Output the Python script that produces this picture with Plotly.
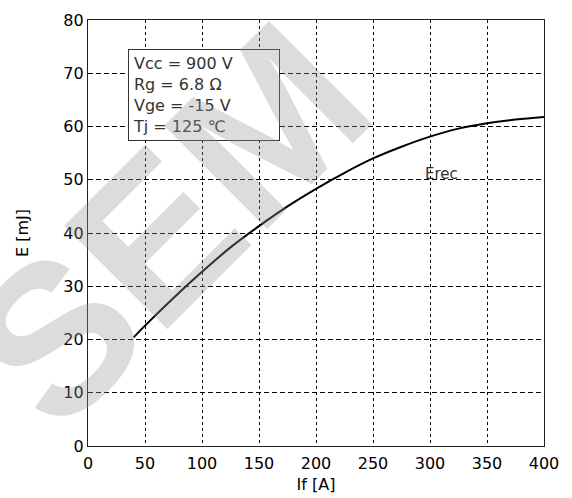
import plotly.graph_objects as go

# Reverse-recovery energy vs forward current
if_a = [40, 50, 75, 100, 125, 150, 175, 200, 225, 250, 275, 300, 325, 350, 375, 400]
erec_mj = [20.4, 22.6, 27.8, 32.7, 37.3, 41.3, 45.0, 48.3, 51.3, 54.0, 56.2, 58.1, 59.6, 60.6, 61.3, 61.8]

x_ticks = [0, 50, 100, 150, 200, 250, 300, 350, 400]
y_ticks = [0, 10, 20, 30, 40, 50, 60, 70, 80]

conditions = ["Vcc = 900 V", "Rg = 6.8 Ω", "Vge = -15 V", "Tj = 125 ℃"]

FONT = "DejaVu Sans, Arial, sans-serif"

fig = go.Figure()
fig.add_trace(go.Scatter(
    x=if_a, y=erec_mj, mode="lines",
    line=dict(color="black", width=2, shape="spline"),
    showlegend=False, hoverinfo="skip",
))

axis_common = dict(
    showline=True, linecolor="#222", linewidth=1.2, mirror=True,
    showgrid=True, gridcolor="black", gridwidth=1, automargin=False,
    zeroline=False, ticks="", tickfont=dict(family=FONT, size=16, color="black"),
)

fig.update_xaxes(
    range=[0, 400], tickvals=x_ticks, griddash="3px,3px", ticklabelstandoff=3,
    title=dict(text="If [A]", font=dict(family=FONT, size=16, color="black"), standoff=6),
    **axis_common,
)
fig.update_yaxes(
    range=[0, 80], tickvals=y_ticks, griddash="5px,3px",
    title=dict(text="E [mJ]", font=dict(family=FONT, size=16, color="black"), standoff=30),
    **axis_common,
)

# operating conditions box
fig.add_annotation(
    xref="paper", yref="paper", x=0.087, y=0.933, xanchor="left", yanchor="top",
    text="<br>".join(conditions), showarrow=False, align="left",
    width=142, height=82,
    font=dict(family=FONT, size=16, color="#333"),
    bgcolor="white", bordercolor="#333", borderwidth=1, borderpad=4,
)

fig.add_annotation(
    x=310, y=51, text="Erec", showarrow=False,
    font=dict(family=FONT, size=15, color="#333"),
)

# light watermark across the plot
fig.add_annotation(
    xref="paper", yref="paper", x=0.175, y=0.52, xanchor="center", yanchor="middle",
    text="<b>SEM</b>", showarrow=False, textangle=-45,
    font=dict(family="Liberation Sans, Arial, sans-serif", size=212, color="rgba(150,150,150,0.33)"),
)

fig.update_layout(
    width=572, height=498,
    margin=dict(l=88, r=28, t=20, b=52),
    plot_bgcolor="white", paper_bgcolor="white",
)

fig.write_html("out.html")
